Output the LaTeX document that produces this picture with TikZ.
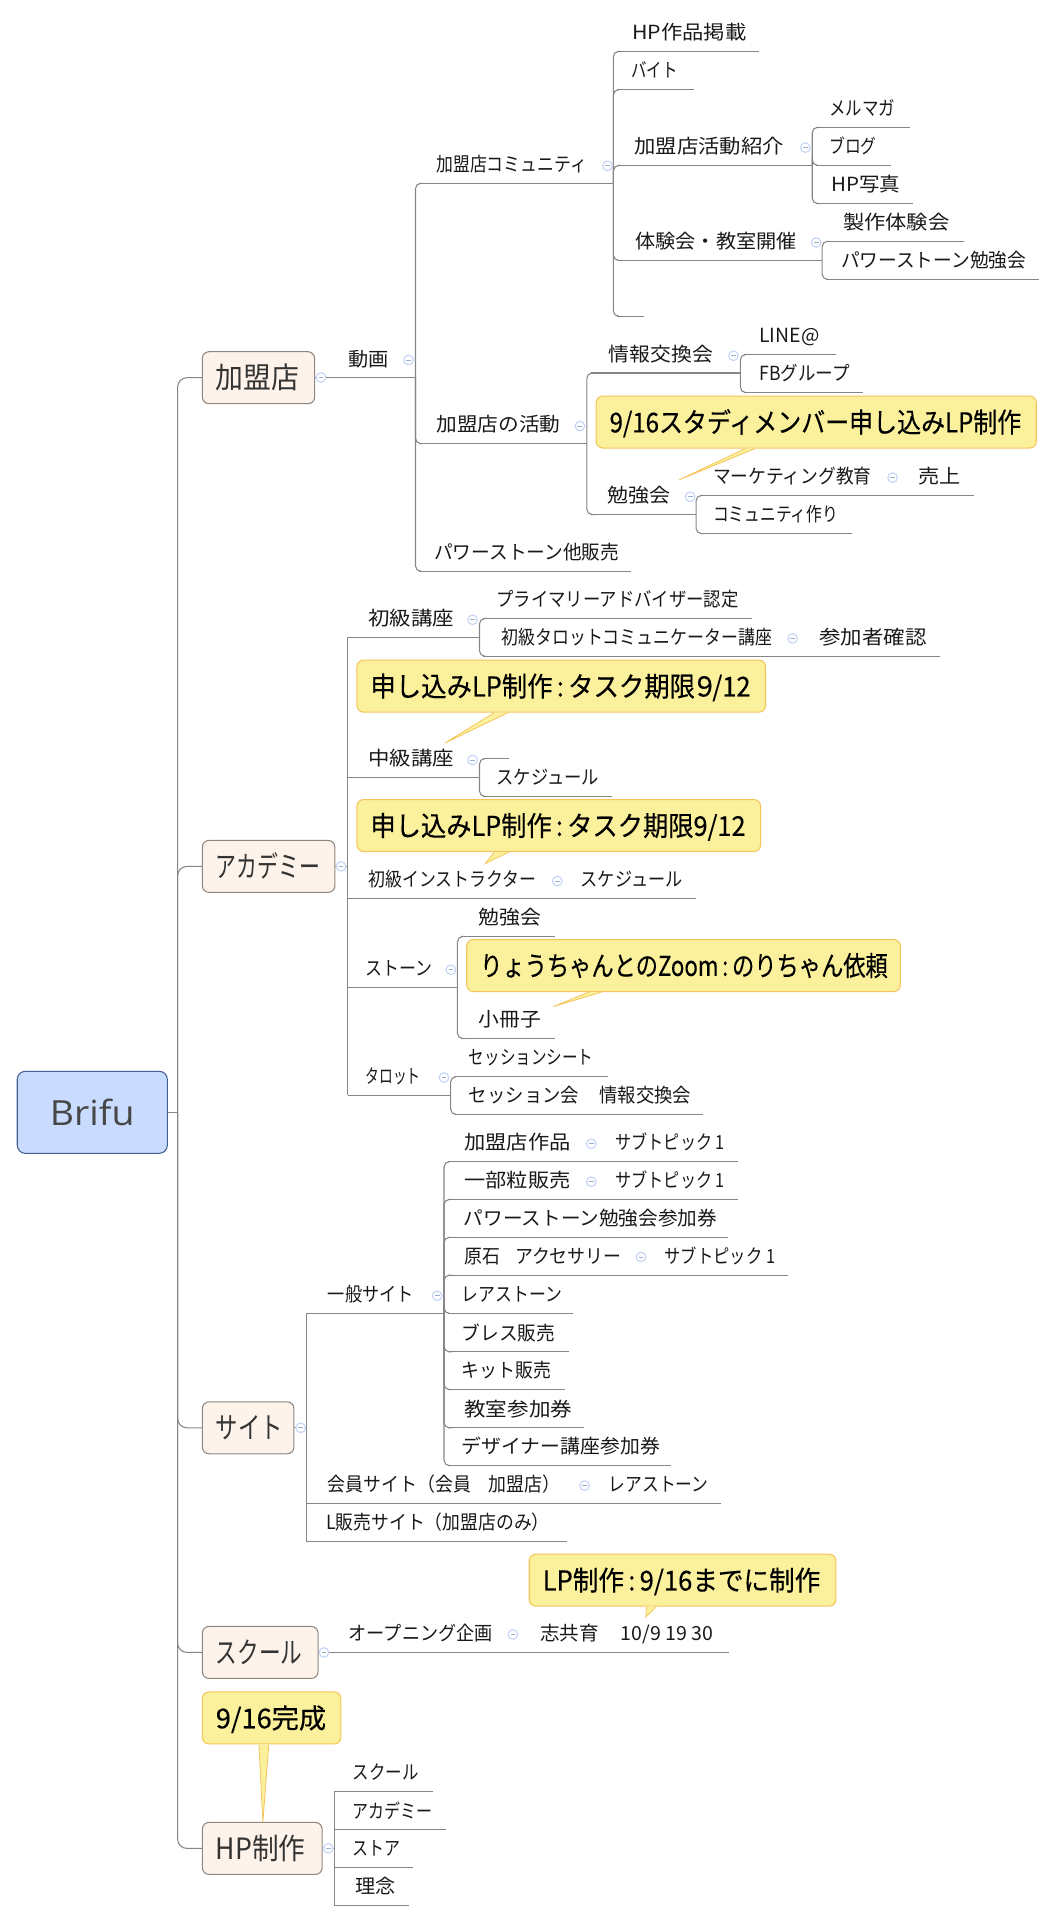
\documentclass[tikz,border=0pt]{standalone}
\usepackage{fontspec,graphicx}
\usetikzlibrary{calc}
\setmainfont{Noto Sans CJK JP}
\newfontfamily\latinfont{Open Sans}
\newfontfamily\notefont[FakeBold=0.35]{Noto Sans CJK JP}
\definecolor{rulegray}{HTML}{858585}
\definecolor{boxedge}{HTML}{8F877E}
\definecolor{boxfill}{HTML}{FDF3EA}
\definecolor{notefill}{HTML}{FBF09C}
\definecolor{noteedge}{HTML}{F5C55C}
\definecolor{foldedge}{HTML}{C3D3F6}
\definecolor{foldbar}{HTML}{9DAED0}
\definecolor{rootfill}{HTML}{C9DCFF}
\definecolor{rootedge}{HTML}{44608F}
\newlength\px
\setlength\px{.7384pt}
\newcommand\tw[2]{\resizebox{#1\px}{\height}{#2}}
% box width, text width, text: text starts at the same inset in every box
\newcommand\inbox[3]{\makebox[#1\px][l]{\hspace{13.7\px}\tw{#2}{#3}}}
% name, left end, right end, line height, text start, text width, text
\newcommand\topic[7]{%
	\node[topictext] (#1) at (#5,#4-19) {\tw{#6}{#7}};
	\coordinate (#1l) at (#2+4,#4);
	\coordinate (#1r) at (#3,#4);
	\draw[rulegrayline] (#1l) -- (#1r);
}
\tikzset{
	rulegrayline/.style={draw=rulegray,line width=.8pt},
	link/.style={rulegrayline,rounded corners=4pt},
	linksq/.style={rulegrayline},
	topictext/.style={anchor=west,inner sep=0pt,text=black!90,font=\fontsize{14.6}{16}\selectfont,text height=12.8pt,text depth=1.8pt},
	boxtopic/.style={anchor=west,draw=boxedge,fill=boxfill,line width=.8pt,rounded corners=5pt,inner sep=0pt,minimum height=39pt,text=black!80,font=\fontsize{22}{24}\selectfont,text height=19.3pt,text depth=2.7pt},
	callnote/.style={anchor=north west,draw=noteedge,fill=notefill,line width=.8pt,rounded corners=5pt,inner sep=0pt,minimum height=39pt,text=black,font=\notefont\fontsize{20.5}{24}\selectfont,text height=18pt,text depth=2.5pt},
	notetail/.style={draw=noteedge,fill=notefill,line width=.6pt,line join=miter},
	fold/.style={circle,draw=foldedge,fill=white,line width=.8pt,inner sep=0pt,minimum size=7.2pt,
		path picture={\draw[foldbar,line width=.6pt] (path picture bounding box.west)++(1.8pt,0) -- ++(3.6pt,0);}},
}
\begin{document}
\begin{tikzpicture}[x=.7384pt,y=-.75pt]
	\useasboundingbox (0,0) rectangle (1071.6,1921);
	%root and main topics
	\node[anchor=west,draw=rootedge,fill=rootfill,line width=.8pt,rounded corners=6pt,inner sep=0pt,minimum width=152.4\px,minimum height=61.5pt,text=black!72,font=\latinfont\fontsize{26}{30}\selectfont] (brifu) at (17,1112.3) {\tw{86}{Brifu}};
	\node[boxtopic] (shop) at (205,377.7) {\inbox{114}{85}{加盟店}};
	\node[boxtopic] (academy) at (205,866.4) {\inbox{134.6}{106}{アカデミー}};
	\node[boxtopic] (site) at (205,1427.8) {\inbox{93}{68}{サイト}};
	\node[boxtopic] (school) at (205,1652.4) {\inbox{117.5}{88}{スクール}};
	\node[boxtopic] (hpmake) at (205,1848.4) {\inbox{121.6}{91}{HP制作}};
	\coordinate (rootbus) at (180.4,1112.3);
	\draw[rulegrayline] (brifu.east) -- (rootbus);
	\foreach \c in {shop,academy,site,school,hpmake}
		\draw[rulegrayline,rounded corners=7pt] (rootbus) |- (\c.west);

	%shop
	\topic{douga}{315}{422}{377.7}{354}{41}{動画}
	\draw[rulegrayline] (shop.east) -- (dougal);
	\topic{comm}{422}{623}{183.3}{443}{153}{加盟店コミュニティ}
	\topic{activity}{422}{596}{443.6}{443}{126}{加盟店の活動}
	\topic{pstone}{422}{641}{571.3}{440.7}{188}{パワーストーン他販売}
	\foreach \c in {comm,activity,pstone}
		\draw[link] (dougar) |- (\c l);
	\topic{hpworks}{623}{771}{51.4}{642}{116}{HP作品掲載}
	\topic{baito}{623}{705}{89.6}{641}{47}{バイト}
	\topic{intro}{623}{825}{165.4}{644}{152}{加盟店活動紹介}
	\topic{taiken}{623}{835}{260.4}{645}{164}{体験会・教室開催}
	\coordinate (blankl) at (627,316.3);
	\coordinate (blankr) at (654,316.3);
	\draw[rulegrayline] (blankl) -- (blankr);
	\foreach \c in {hpworks,baito,intro,taiken,blank}
		\draw[link] (commr) |- (\c l);
	\topic{mail}{825}{924}{127.3}{842}{67}{メルマガ}
	\topic{blog}{825}{905}{165.4}{842}{48}{ブログ}
	\topic{hpphoto}{825}{927}{203.6}{844}{70}{HP写真}
	\foreach \c in {mail,blog,hpphoto}
		\draw[link] (intror) |- (\c l);
	\topic{seisaku}{835}{979}{241.3}{856}{108}{製作体験会}
	\topic{pstudy}{835}{1055}{279.4}{854}{188}{パワーストーン勉強会}
	\foreach \c in {seisaku,pstudy}
		\draw[link] (taikenr) |- (\c l);
	\topic{exch}{596}{752}{373}{618}{106}{情報交換会}
	\topic{study}{596}{707}{514.5}{617}{64}{勉強会}
	\foreach \c in {exch,study}
		\draw[link] (activityr) |- (\c l);
	\topic{line}{752}{849}{354.5}{771}{61}{LINE@}
	\topic{fb}{752}{877}{392.6}{771}{92}{FBグループ}
	\foreach \c in {line,fb}
		\draw[link] (exchr) |- (\c l);
	\topic{mkt}{707}{920}{495.4}{724}{161}{マーケティング教育}
	\topic{komi}{707}{865}{533.6}{724}{127}{コミュニティ作り}
	\foreach \c in {mkt,komi}
		\draw[link] (studyr) |- (\c l);
	\topic{uria}{916}{989}{495.4}{932.6}{43}{売上}
	\draw[rulegrayline] (mktr) -- (urial);

	%academy
	\coordinate (acabus) at (353,866.4);
	\draw[rulegrayline] (academy.east) -- (acabus);
	\topic{shokyu}{349}{487}{637.2}{373.7}{87.3}{初級講座}
	\topic{chukyu}{349}{487}{777.3}{374}{87}{中級講座}
	\topic{instr}{349}{566}{898.4}{374}{170.5}{初級インストラクター}
	\topic{stone}{349}{464.6}{987.5}{371}{68}{ストーン}
	\topic{tarot}{349}{457.7}{1095.3}{371}{56}{タロット}
	\foreach \c in {shokyu,chukyu,instr,stone,tarot}
		\draw[linksq] (acabus) |- (\c l);
	\topic{primary}{487}{764}{618.5}{504}{246}{プライマリーアドバイザー認定}
	\topic{tarotcom}{487}{790}{656.2}{509}{275}{初級タロットコミュニケーター講座}
	\foreach \c in {primary,tarotcom}
		\draw[link] (shokyur) |- (\c l);
	\topic{sanka}{786}{954.4}{656.2}{832}{109}{参加者確認}
	\draw[rulegrayline] (tarotcomr) -- (sankal);
	\coordinate (blankml) at (491,758.6);
	\coordinate (blankmr) at (517,758.6);
	\draw[rulegrayline] (blankml) -- (blankmr);
	\topic{sched}{487}{622}{796.4}{504}{104}{スケジュール}
	\foreach \c in {blankm,sched}
		\draw[link] (chukyur) |- (\c l);
	\topic{schedb}{562}{707}{898.4}{589.6}{103.4}{スケジュール}
	\draw[rulegrayline] (instrr) -- (schedbl);
	\topic{bstudy}{464.6}{563.6}{936.5}{485.7}{63.5}{勉強会}
	\topic{booklet}{464.6}{563.6}{1038.5}{485.7}{63.5}{小冊子}
	\foreach \c in {bstudy,booklet}
		\draw[link] (stoner) |- (\c l);
	\topic{sheet}{457.7}{618}{1076.6}{476}{126.6}{セッションシート}
	\topic{sesskai}{457.7}{714}{1114.4}{476}{225.7}{セッション会\hspace{1.1em}情報交換会}
	\foreach \c in {sheet,sesskai}
		\draw[link] (tarotr) |- (\c l);

	%site
	\coordinate (sitebus) at (311.5,1427.8);
	\draw[rulegrayline] (site.east) -- (sitebus);
	\topic{general}{307.5}{451}{1313.2}{332.7}{87.3}{一般サイト}
	\topic{member}{307.5}{594}{1503.3}{332.7}{236.3}{会員サイト（会員　加盟店）}
	\topic{lsale}{307.5}{576}{1541.5}{331}{227}{L販売サイト（加盟店のみ）}
	\foreach \c in {general,member,lsale}
		\draw[linksq] (sitebus) |- (\c l);
	\topic{rareb}{590}{732.4}{1503.3}{618}{101.4}{レアストーン}
	\draw[rulegrayline] (memberr) -- (rarebl);
	\topic{works}{451}{600.5}{1161.6}{471.4}{108}{加盟店作品}
	\topic{grain}{451}{600.5}{1199.4}{471.4}{108}{一部粒販売}
	\topic{ticket}{451}{739}{1237.3}{471}{257}{パワーストーン勉強会参加券}
	\topic{stones}{451}{651}{1275.2}{472}{159}{原石\hspace{.8em}アクセサリー}
	\topic{rare}{451}{582}{1313.4}{468.7}{101.8}{レアストーン}
	\topic{brace}{451}{578}{1351.8}{468.7}{95}{ブレス販売}
	\topic{kit}{451}{574}{1389.6}{468.7}{91}{キット販売}
	\topic{classtk}{451}{593}{1427.8}{471.4}{109.6}{教室参加券}
	\topic{designtk}{451}{682}{1465.6}{468.7}{201.3}{デザイナー講座参加券}
	\foreach \c in {works,grain,ticket,stones,rare,brace,kit,classtk,designtk}
		\draw[link] (generalr) |- (\c l);
	\topic{suba}{596.5}{749.5}{1161.6}{625}{111}{サブトピック 1}
	\topic{subb}{596.5}{749.5}{1199.4}{625}{111}{サブトピック 1}
	\topic{subc}{647}{800.6}{1275.2}{674.5}{112.5}{サブトピック 1}
	\draw[rulegrayline] (worksr) -- (subal);
	\draw[rulegrayline] (grainr) -- (subbl);
	\draw[rulegrayline] (stonesr) -- (subcl);

	%school
	\topic{opening}{318.5}{521}{1652.4}{354}{146}{オープニング企画}
	\draw[rulegrayline] (school.east) -- (openingl);
	\topic{shi}{517}{740}{1652.4}{548.6}{175.4}{志共育\hspace{1.1em}10/9 19 30}
	\draw[rulegrayline] (openingr) -- (shil);

	%hp
	\coordinate (hpbus) at (339.6,1848.4);
	\draw[rulegrayline] (hpmake.east) -- (hpbus);
	\topic{hschool}{335.6}{439.3}{1791.5}{358}{67}{スクール}
	\topic{hacademy}{335.6}{453}{1829.7}{358}{81}{アカデミー}
	\topic{hstore}{335.6}{419.5}{1867.5}{358}{48.5}{ストア}
	\topic{hidea}{335.6}{415.3}{1905.2}{360.7}{41}{理念}
	\foreach \c in {hschool,hacademy,hstore,hidea}
		\draw[linksq] (hpbus) |- (\c l);

	%callouts
	\node[callnote] (notea) at (605,395.5) {\inbox{447}{418}{9/16スタディメンバー申し込みLP制作}};
	\coordinate (tipa) at (690,479.7);
	\draw[notetail] ($(notea.south west)+(152,0)$) -- (tipa) -- ($(notea.south west)+(162,0)$);
	\node[callnote] (noteb) at (362,659.6) {\inbox{415}{386}{申し込みLP制作\,:\,タスク期限\kern-.12em ９\kern-.2em /12}};
	\coordinate (tipb) at (452,743);
	\draw[notetail] ($(noteb.south west)+(140,0)$) -- (tipb) -- ($(noteb.south west)+(154,0)$);
	\node[callnote] (notec) at (362,799) {\inbox{410}{381}{申し込みLP制作\,:\,タスク期限9/12}};
	\coordinate (tipc) at (493,863.5);
	\draw[notetail] ($(notec.south west)+(140,0)$) -- (tipc) -- ($(notec.south west)+(155,0)$);
	\node[callnote] (noted) at (473.5,939) {\inbox{440.5}{414}{りょうちゃんとのZoom\,:\,のりちゃん依頼}};
	\coordinate (tipd) at (562,1006.6);
	\draw[notetail] ($(noted.south west)+(124.5,0)$) -- (tipd) -- ($(noted.south west)+(137.5,0)$);
	\node[callnote] (notee) at (537,1553.6) {\inbox{311.5}{282}{LP制作\,:\,9/16までに制作}};
	\coordinate (tipe) at (656,1617);
	\draw[notetail] ($(notee.south west)+(119.6,0)$) -- (tipe) -- ($(notee.south west)+(129.8,0)$);
	\node[callnote] (notef) at (205,1691.4) {\inbox{140.7}{112}{9/16完成}};
	\coordinate (tipf) at (267,1822);
	\draw[notetail] ($(notef.south west)+(58,0)$) -- (tipf) -- ($(notef.south west)+(68,0)$);

	%fold marks
	\foreach \x/\y [count=\i] in {326/377.5,415/360,617/165.8,818/147.6,829/242.5,745/355.7,589/426,701/496.7,906.6/477.6,
		346.4/866.4,480/619.8,805/638.4,480/760,566/881,458/969.7,451/1077.5,
		305.4/1427.8,444/1295.7,600.5/1143.8,600.5/1181.7,651/1257,593.7/1485.5,
		329/1652.4,521/1634.5,333.4/1848.4}
		\node[fold] (fold\i) at (\x,\y) {};
\end{tikzpicture}
\end{document}
